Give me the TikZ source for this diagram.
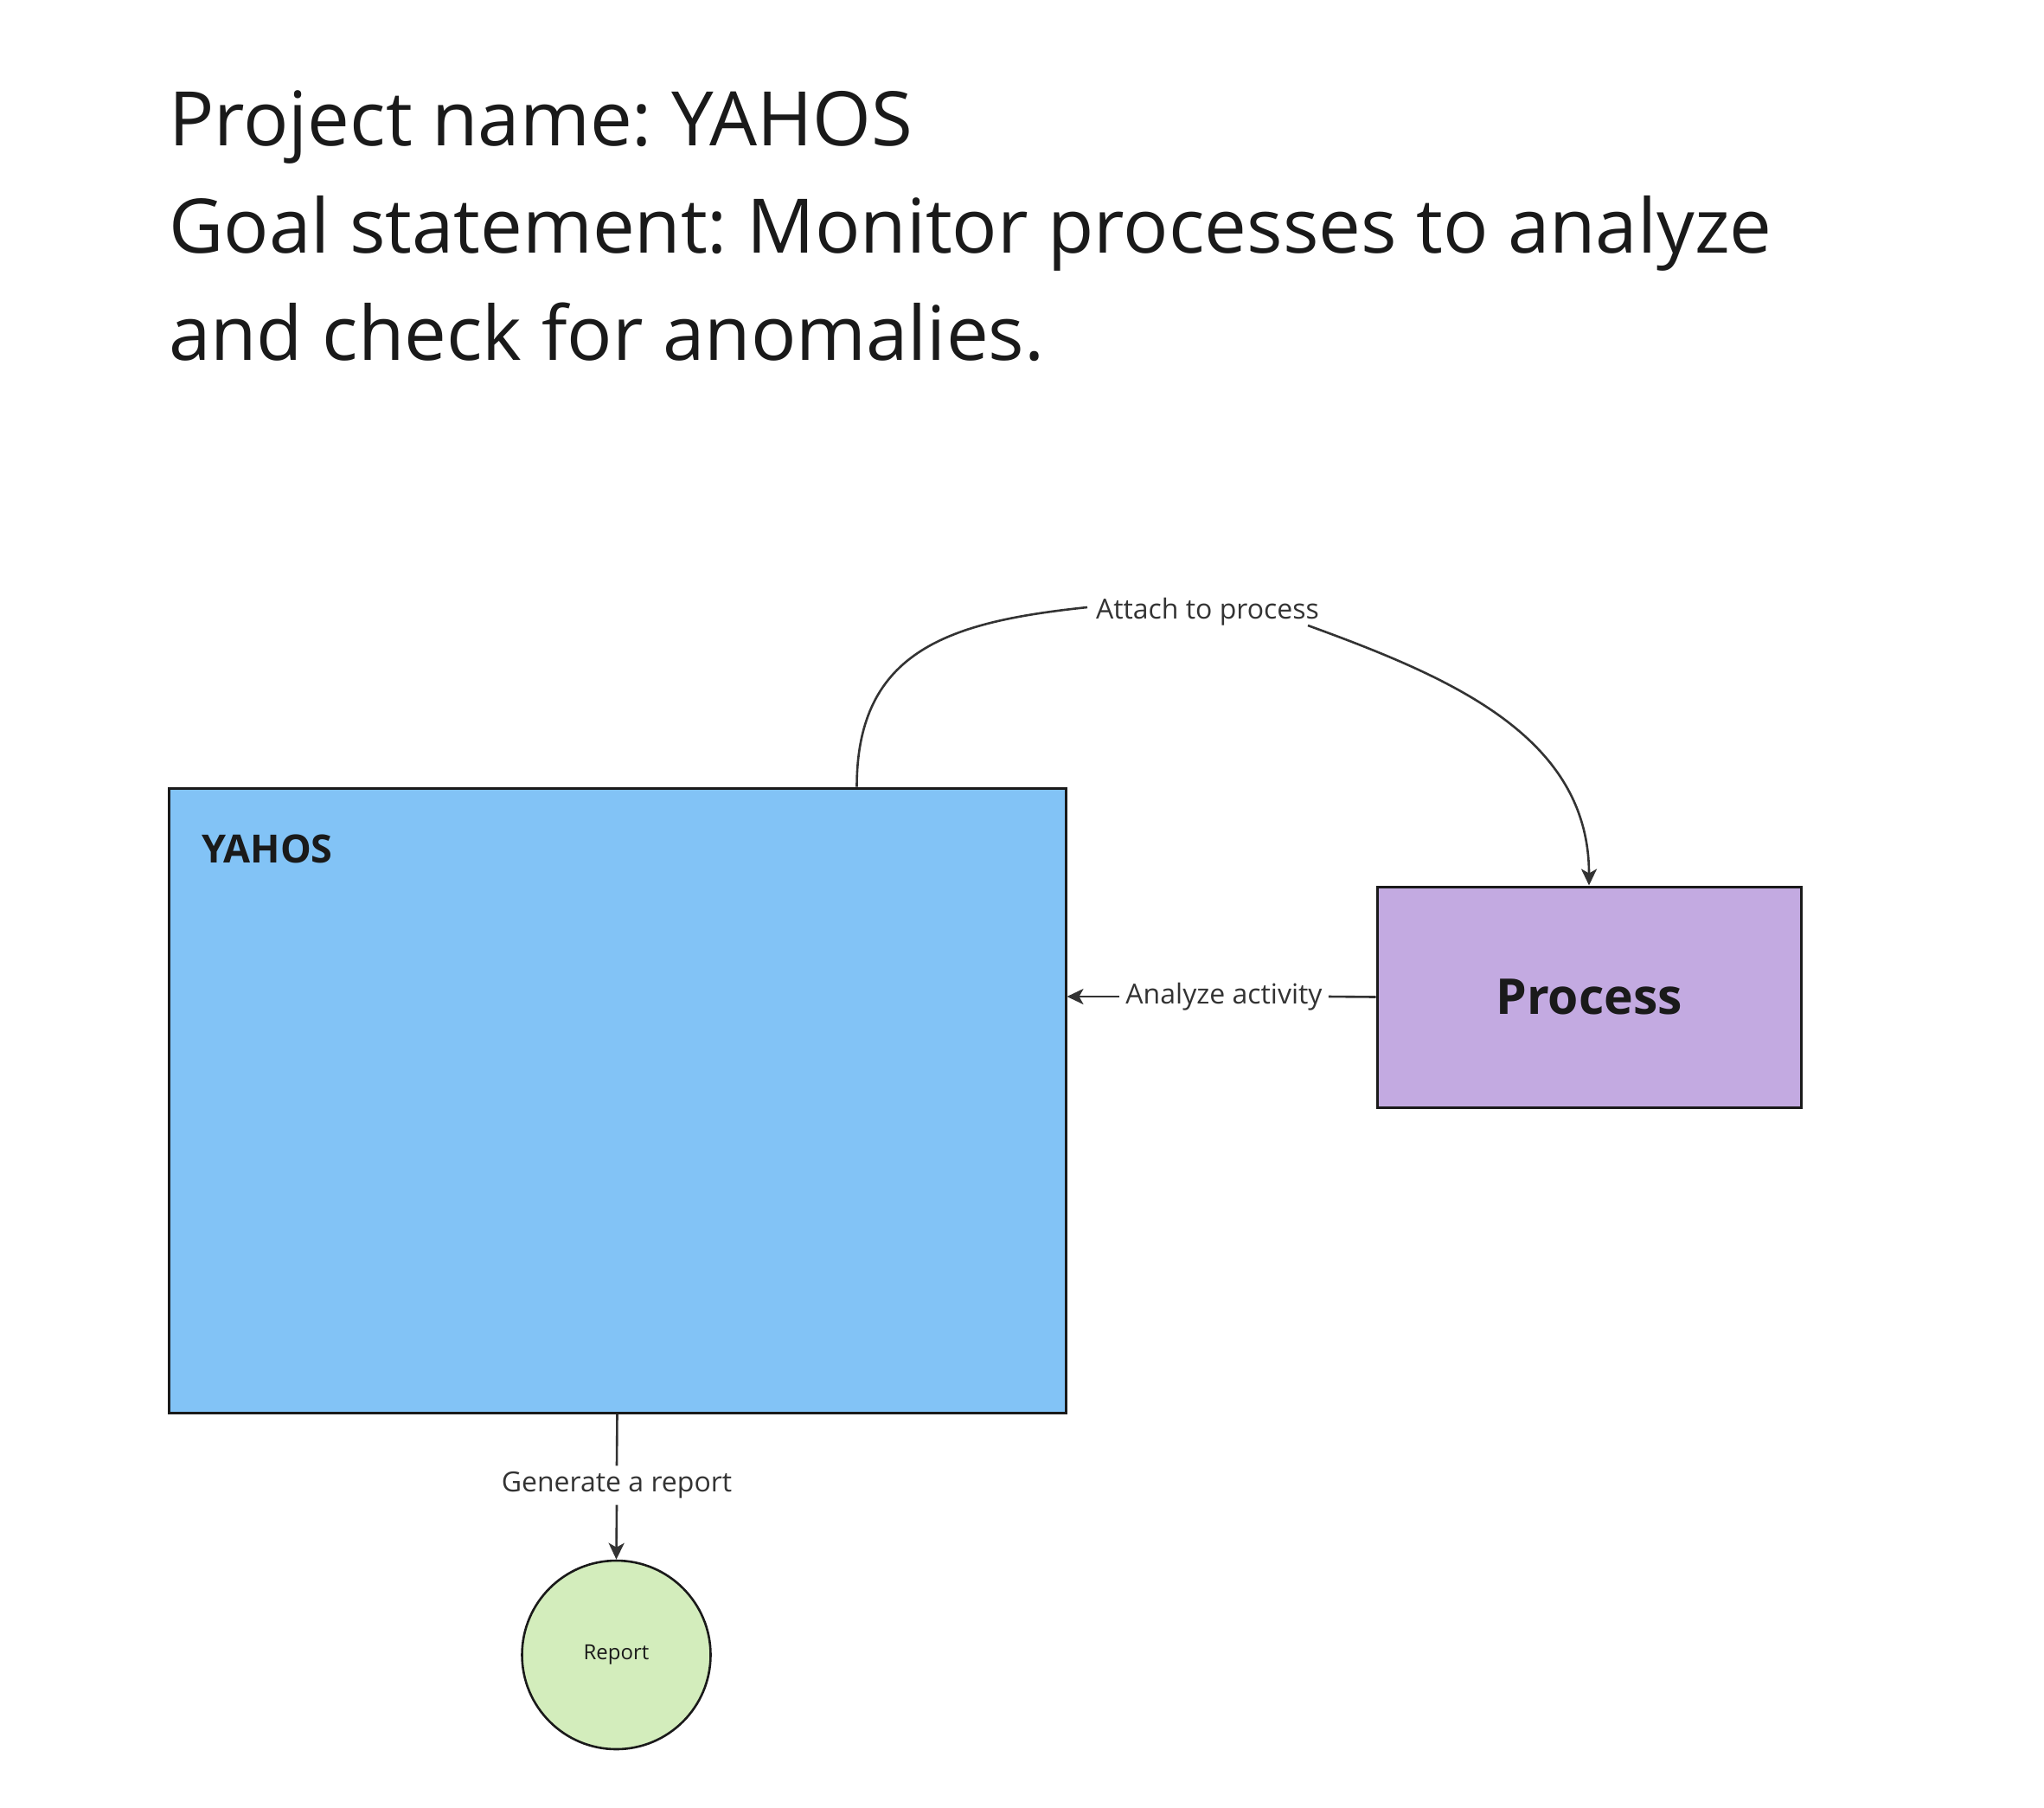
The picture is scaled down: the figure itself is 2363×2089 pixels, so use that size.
\documentclass[tikz,border=0pt]{standalone}
\usepackage{fontspec}
\setmainfont{Open Sans}
\usetikzlibrary{arrows.meta,positioning}
\definecolor{yahosblue}{HTML}{82C3F6}
\definecolor{processpurple}{HTML}{C3AAE1}
\definecolor{reportgreen}{HTML}{D3EDBC}
\definecolor{inkgrey}{HTML}{333333}
\definecolor{textblack}{HTML}{1A1A1A}
\frenchspacing

\begin{document}
\begin{tikzpicture}[x=1pt,y=-1pt,>={Stealth[length=19pt,width=18pt,inset=5pt]},
    title text/.style={anchor=base west,inner sep=0pt,text=textblack,font=\fontsize{87}{100}\selectfont},
    edge label/.style={inner sep=7pt,text=inkgrey,font=\fontsize{32}{38}\selectfont},
    link/.style={draw=inkgrey,line width=2.6pt},
    box/.style={rectangle,draw=textblack,line width=3pt}]

    \useasboundingbox (0,0) rectangle (2363,2089);

    \node[title text] (project) at (195,168) {Project name: YAHOS};
    \node[title text] (goal) at ([yshift=-124pt]project.base west) {Goal statement: Monitor processes to analyze};
    \node[title text] (goalend) at ([yshift=-124pt]goal.base west) {and check for anomalies.};

    \node[box,fill=yahosblue,minimum width=1037pt,minimum height=722pt] (yahos) at (713.5,1272) {};
    \node[anchor=base west,inner sep=0pt,text=textblack,font=\bfseries\fontsize{45}{54}\selectfont] (yahostitle) at (233,997) {YAHOS};

    \node[box,fill=processpurple,minimum width=490pt,minimum height=255pt,text=textblack,font=\bfseries\fontsize{57}{68}\selectfont] (process) at (1837,1152.5) {\raisebox{-2pt}{Process}};

    \node[circle,draw=textblack,line width=2.6pt,fill=reportgreen,minimum size=218pt,inner sep=0pt,text=textblack,font=\fontsize{24}{29}\selectfont] (report) at (712.5,1913) {\raisebox{-4pt}{Report}};

    \node[edge label] (attach) at (1396,707) {Attach to process};
    \node[edge label] (analyze) at (1415,1152) {\raisebox{-3pt}{Analyze activity}};
    \node[edge label] (generate) at (713,1717) {Generate a report};

    \coordinate (attachin) at (1257,702);
    \coordinate (attachout) at (1512,723);

    \draw[link] ([xshift=797pt]yahos.north west) to[out=90,in=186,looseness=1.2] (attachin);
    \draw[link,->] (attachout) to[out=-20,in=90] (process.north);

    \draw[link] (process.west) -- (analyze.east);
    \draw[link,->] (analyze.west) -- (analyze.west -| yahos.east);

    \draw[link] (yahos.south) -- (generate.north);
    \draw[link,->] (generate.south) -- (report.north);

\end{tikzpicture}
\end{document}
